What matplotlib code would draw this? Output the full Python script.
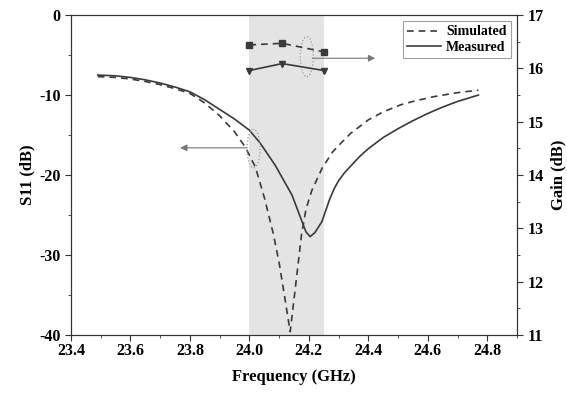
import numpy as np
import matplotlib
matplotlib.use("Agg")
import matplotlib.pyplot as plt
from matplotlib.patches import Ellipse

plt.rcParams['font.family'] = 'Liberation Serif'
plt.rcParams['font.weight'] = 'bold'
plt.rcParams['axes.unicode_minus'] = False

# S11 data
f_sim = [23.49, 23.55, 23.6, 23.65, 23.7, 23.75, 23.8, 23.85, 23.9, 23.95, 23.986, 24.02,
         24.05, 24.08, 24.1, 24.12, 24.137, 24.15, 24.175, 24.19, 24.21, 24.245, 24.28,
         24.3, 24.34, 24.4, 24.45, 24.51, 24.55, 24.62, 24.7, 24.77]
s11_sim = [-7.7, -7.8, -8.0, -8.3, -8.7, -9.2, -9.8, -11.0, -12.6, -14.6, -16.5, -19.0,
           -22.8, -27.3, -31.0, -35.6, -39.6, -35.5, -27.5, -24.3, -21.9, -19.1, -17.1,
           -16.3, -14.8, -13.1, -12.1, -11.2, -10.8, -10.2, -9.7, -9.4]

f_meas = [23.49, 23.55, 23.6, 23.65, 23.7, 23.75, 23.8, 23.85, 23.9, 23.95, 24.0, 24.036,
          24.087, 24.143, 24.19, 24.204, 24.22, 24.244, 24.255, 24.27, 24.285, 24.3,
          24.32, 24.34, 24.37, 24.4, 24.45, 24.5, 24.55, 24.6, 24.65, 24.7, 24.77]
s11_meas = [-7.5, -7.6, -7.8, -8.1, -8.5, -9.0, -9.6, -10.6, -11.8, -13.0, -14.4, -16.0,
            -18.8, -22.5, -27.1, -27.7, -27.2, -25.8, -24.6, -23.0, -21.7, -20.7,
            -19.7, -18.9, -17.7, -16.7, -15.3, -14.2, -13.2, -12.3, -11.5, -10.8, -10.0]

# gain data
f_gain = [24.0, 24.11, 24.25]
gain_sim = [16.44, 16.47, 16.31]
gain_meas = [15.96, 16.09, 15.96]

band = (24.0, 24.25)

fig = plt.figure(figsize=(5.67, 3.96), dpi=100)
ax = fig.add_axes([0.1252, 0.154, 0.7868, 0.808])
ax2 = ax.twinx()

ax.axvspan(band[0], band[1], color='#e4e4e4', lw=0, zorder=0)

c = '#3a3a3a'
ax.plot(f_sim, s11_sim, ls=(0, (4, 3)), color=c, lw=1.2, label='Simulated')
ax.plot(f_meas, s11_meas, ls='-', color=c, lw=1.2, label='Measured')

ax2.plot(f_gain, gain_sim, ls=(0, (4, 3)), color=c, lw=1.2, marker='s', ms=4)
ax2.plot(f_gain, gain_meas, ls='-', color=c, lw=1.2, marker='v', ms=5)

ax.set_xlim(23.4, 24.9)
ax.set_ylim(-40, 0)
ax2.set_ylim(11, 17)

ax.set_xticks(np.arange(23.4, 24.81, 0.2))
ax.set_xticks(np.arange(23.5, 24.91, 0.1), minor=True)
ax.set_yticks(np.arange(-40, 1, 10))
ax.set_yticks(np.arange(-35, 0, 10), minor=True)
ax2.set_yticks(np.arange(11, 18, 1))
ax2.set_yticks(np.arange(11.5, 17, 1), minor=True)

for a in (ax, ax2):
    a.tick_params(which='both', direction='out', labelsize=11.5, color='#333333')
    a.tick_params(which='major', length=4)
    a.tick_params(which='minor', length=2.5)
    for lab in a.get_xticklabels() + a.get_yticklabels():
        lab.set_fontweight('bold')
    for s in a.spines.values():
        s.set_color('#333333')
ax.tick_params(axis='x', pad=2)

ax.set_xlabel('Frequency (GHz)', fontsize=12, fontweight='bold', labelpad=7)
ax.set_ylabel('S11 (dB)', fontsize=12, fontweight='bold', labelpad=3)
ax2.set_ylabel('Gain (dB)', fontsize=12, fontweight='bold', labelpad=5)

# ellipses and arrows
ax.add_patch(Ellipse((24.193, -5.2), 0.044, 5.0, fill=False, ec='#999999', ls=':', lw=0.9, zorder=3))
ax.annotate('', xy=(24.423, -5.4), xytext=(24.211, -5.4),
            arrowprops=dict(arrowstyle='-|>', color='#777777', lw=0.8,
                            mutation_scale=10, shrinkA=0, shrinkB=0))
ax.add_patch(Ellipse((24.014, -16.7), 0.044, 4.8, fill=False, ec='#999999', ls=':', lw=0.9, zorder=3))
ax.annotate('', xy=(23.767, -16.6), xytext=(23.99, -16.6),
            arrowprops=dict(arrowstyle='-|>', color='#777777', lw=0.8,
                            mutation_scale=10, shrinkA=0, shrinkB=0))

leg = ax.legend(loc='upper right', fontsize=10, frameon=True, fancybox=False,
                edgecolor='#888888', borderpad=0.3, handlelength=2.4, handletextpad=0.4,
                labelspacing=0.15, borderaxespad=0.45)
leg.get_frame().set_linewidth(0.8)

fig.savefig('out.png', dpi=100)
